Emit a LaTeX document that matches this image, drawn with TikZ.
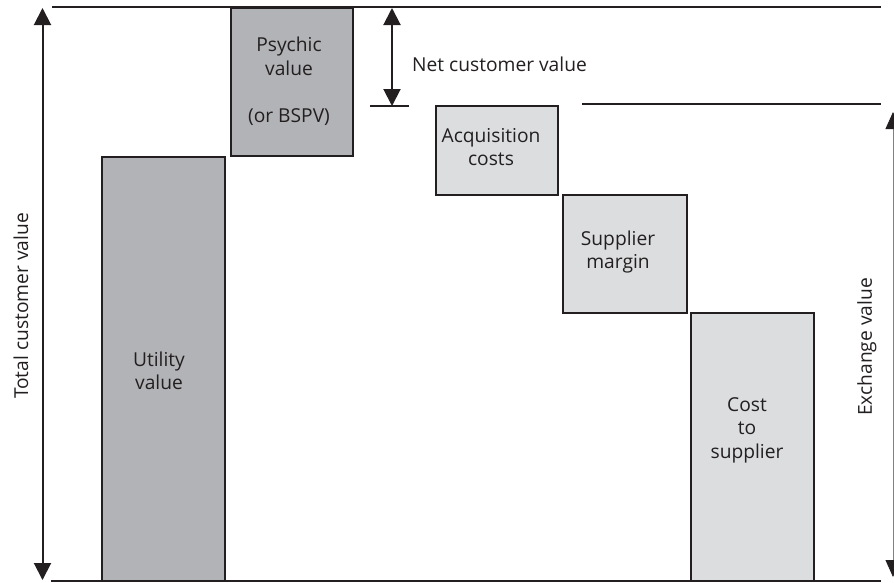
\documentclass[tikz,border=0pt]{standalone}
\usepackage{fontspec}
\setmainfont{Open Sans}
\usetikzlibrary{arrows.meta}
\definecolor{ink}{HTML}{231F20}
\definecolor{darkfill}{HTML}{B2B3B6}
\definecolor{lightfill}{HTML}{DCDDDF}
\tikzset{
  valbox/.style={draw=ink, line width=1.8pt, rectangle, inner sep=0pt, anchor=north west},
  darkbox/.style={valbox, fill=darkfill},
  lightbox/.style={valbox, fill=lightfill},
  lbl/.style={text=ink, align=center, inner sep=0pt, font=\fontsize{19.2}{23.5}\selectfont},
  dimarrow/.style={draw=ink, line width=2pt, {Triangle[width=17pt,length=17pt]}-{Triangle[width=17pt,length=17pt]}},
  thinarrow/.style={draw=gray, line width=0.9pt, {Triangle[width=15pt,length=17pt,color=ink]}-{Triangle[width=15pt,length=17pt,color=ink]}},
  rule/.style={draw=ink, line width=2pt}
}
\begin{document}
\begin{tikzpicture}[x=1pt,y=-1pt]
\useasboundingbox (0,0) rectangle (894,582);
% boxes
\node[darkbox, minimum width=122pt, minimum height=148pt] (psy) at (230,7) {};
\node[darkbox, minimum width=123pt, minimum height=424pt] (util) at (101,156) {};
\node[lightbox, minimum width=122pt, minimum height=89pt] (acq) at (435,105) {};
\node[lightbox, minimum width=124pt, minimum height=118pt] (marg) at (562,194) {};
\node[lightbox, minimum width=123pt, minimum height=268pt] (cost) at (690,312) {};
% box texts
\node[lbl] (psyT) at (289,81) {Psychic\\value\\ \\(or BSPV)};
\node[lbl] (utilT) at (159,371) {Utility\\value};
\node[lbl] (acqT) at (491,147) {Acquisition\\costs};
\node[lbl] (margT) at (618,252) {Supplier\\margin};
\node[lbl] (costT) at (747,430) {Cost\\to\\supplier};
% reference lines
\coordinate (topL) at (52,7.3);
\coordinate (topR) at (881,7.3);
\coordinate (exL) at (582,104);
\coordinate (exR) at (881,104);
\coordinate (tickL) at (370,106);
\coordinate (tickR) at (409,106);
\coordinate (botL) at (51,581);
\coordinate (botR) at (881,581);
\draw[rule] (topL) -- (topR);
\draw[rule] (exL) -- (exR);
\draw[rule] (tickL) -- (tickR);
\draw[draw=ink, line width=1.5pt] (botL) -- (botR);
% dimension arrows
\coordinate (tcvA) at (42.5,8);
\coordinate (tcvB) at (42.5,580);
\draw[dimarrow] (tcvA) -- (tcvB);
\coordinate (ncvA) at (392,8);
\coordinate (ncvB) at (392,106);
\draw[dimarrow] (ncvA) -- (ncvB);
\coordinate (evA) at (893,112);
\coordinate (evB) at (893,577);
\draw[thinarrow] (evA) -- (evB);
% dimension labels
\node[lbl, anchor=west] (ncvT) at (412,64) {Net customer value};
\node[lbl, rotate=90] (tcvT) at (21,306) {Total customer value};
\node[lbl, rotate=90] (evT) at (867,347) {Exchange value};
\end{tikzpicture}
\end{document}
